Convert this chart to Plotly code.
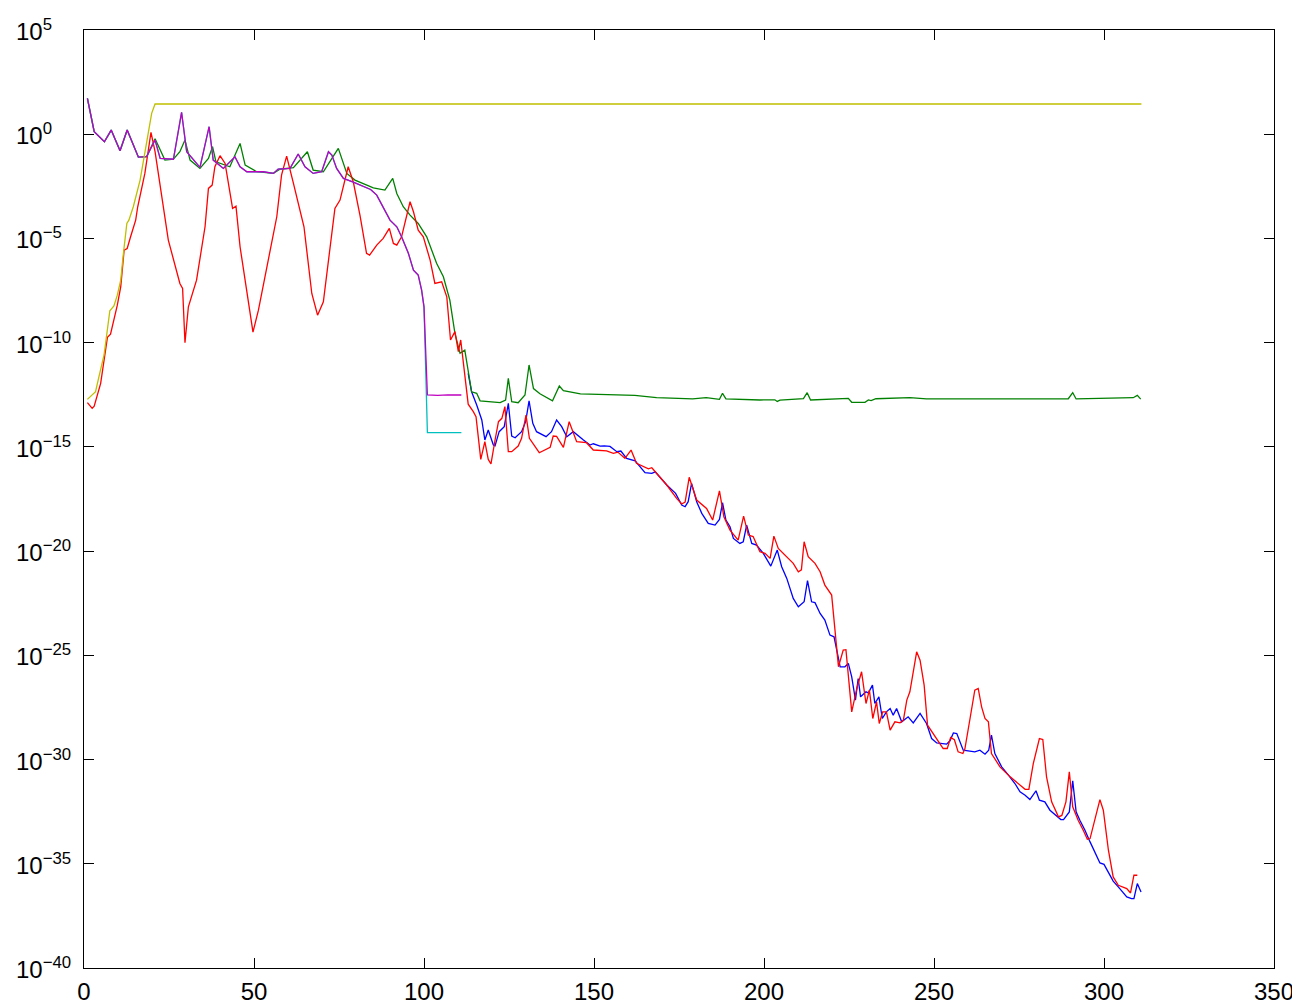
import plotly.graph_objects as go

# ---------------- data (x, log10 of value) ----------------
purple_x = [1, 3, 6, 8, 10.6, 12.7, 16, 18.4, 20.9, 22.4, 26.3, 28.7, 30.2, 34.1, 36.8, 38, 41,
            44.4, 45.9, 47.9, 52.7, 55.7, 57.1, 60.6, 63, 65, 67.4, 69.9, 71.9, 72.9, 74.3, 76.3,
            79.2, 82.1, 84.3, 86.1, 88, 90, 92, 93.4, 95.4, 96.9, 98.3, 99.3, 100, 101, 104, 107, 111]
purple_log = [1.72, 0.12, -0.36, 0.2, -0.79, 0.2, -1.1, -1.08, -0.28, -1.16, -1.2, 1.05, -0.84,
              -1.59, 0.36, -1.24, -1.64, -1.08, -1.56, -1.8, -1.8, -1.88, -1.67, -1.64, -0.95,
              -1.56, -1.88, -1.8, -0.84, -1.0, -1.64, -2.12, -2.3, -2.52, -2.65, -2.92, -3.48,
              -4.12, -4.44, -4.92, -5.71, -6.52, -6.76, -7.48, -8.28, -12.51, -12.53, -12.5, -12.51]

cyan_tail_x = [101, 111]
cyan_tail_log = [-14.32, -14.32]

green_x = [1, 3, 6, 8, 10.6, 12.7, 16, 18.4, 20.9, 23.8, 26.3, 28.2, 29.7, 31.2, 34.1, 36.6, 37.8,
           38.8, 42.9, 45.9, 47.4, 50.8, 55.7, 57.6, 61.6, 65.7, 67.4, 70.4, 74.8, 76.3, 77.3,
           79.7, 82.1, 85.1, 88.5, 90.8, 92, 93.9, 95.9, 98.3, 100.8, 103.7, 105.7, 107.6, 109.1,
           110.6, 112, 113, 114, 115.5, 116.5, 122.4, 124, 124.8, 125.8, 127.7, 129.7, 130.9,
           132.2, 134.1, 137.8, 139.8, 141, 146, 155, 162, 168.4, 179, 183, 186.9, 187.8, 188.8,
           198.8, 203.2, 203.9, 204.7, 211.6, 212.7, 213.7, 224.8, 225.8, 229.7, 230.7, 231.5,
           232.9, 239.5, 242.9, 247.8, 265, 289.5, 290.8, 291.8, 308.6, 309.8, 310.8]
green_log = [1.72, 0.12, -0.36, 0.2, -0.79, 0.2, -1.1, -1.08, -0.22, -1.24, -1.2, -0.84, -0.28,
             -1.24, -1.64, -1.16, -0.6, -1.32, -1.56, -0.44, -1.48, -1.8, -1.88, -1.68, -1.6,
             -0.84, -1.72, -1.8, -0.68, -1.4, -1.88, -2.2, -2.36, -2.57, -2.68, -2.12, -2.84,
             -3.48, -3.88, -4.28, -4.92, -6.19, -6.84, -7.96, -9.55, -10.51, -10.36, -11.47,
             -12.36, -12.43, -12.79, -12.88, -12.75, -11.71, -12.83, -12.88, -12.51, -11.07,
             -12.2, -12.45, -12.79, -12.08, -12.3, -12.46, -12.5, -12.53, -12.64, -12.7, -12.64,
             -12.72, -12.43, -12.7, -12.75, -12.74, -12.82, -12.76, -12.68, -12.4, -12.75,
             -12.67, -12.86, -12.86, -12.75, -12.78, -12.69, -12.64, -12.64, -12.7, -12.69,
             -12.69, -12.4, -12.7, -12.64, -12.53, -12.71]

red_x = [1, 2.4, 3, 4.9, 6.9, 7.8, 9.8, 10.8, 11.8, 12.7, 13.7, 15.2, 15.8, 17.9, 19.7, 20.9, 24.8,
         28.2, 29, 29.7, 30.7, 33.1, 35.6, 36.6, 37.7, 38.5, 40, 41.5, 43.7, 44.7, 45.9, 47.9,
         49.7, 51.3, 53.7, 56.7, 58.1, 59.6, 61.6, 64.7, 67, 68.7, 70.4, 73.8, 75.3, 77.7, 79.2,
         81.2, 83.1, 84, 86.1, 88, 89.8, 91, 92, 93.4, 95.9, 96.9, 98.3, 99.8, 101.8, 103.2,
         105.2, 106.7, 107.8, 109.1, 110.1, 110.8, 111.6, 113, 114.5, 115.3, 116.7, 117.9, 118.9,
         119.7, 120.9, 121.9, 122.9, 123.8, 124.8, 125.8, 127.7, 128.7, 130, 131, 133.9, 137.1,
         138, 139, 141, 142.7, 144.9, 147.8, 149.8, 153.7, 155.7, 157, 159.1, 160.9, 162.5,
         164.5, 166, 167, 168.4, 171.4, 174.3, 175.8, 176.8, 178, 180.2, 183.1, 184.9, 186.9,
         188.2, 190, 192.4, 194, 195.4, 196.8, 198.8, 200.3, 201.8, 202.9, 204.2, 206.7, 208.6,
         210.1, 211, 211.8, 213, 215, 216.5, 217.9, 219.9, 221.9, 223.3, 224.1, 225.8, 227.3,
         228.7, 230, 231, 232, 233.1, 233.9, 234.9, 236, 237.1, 238.5, 240, 241, 242, 242.9,
         244.9, 245.9, 247.1, 248.1, 249.8, 251.8, 252.7, 253.9, 254.9, 256, 257.1, 258.5,
         259.1, 260.6, 262, 263, 264, 265, 266, 266.9, 269.4, 272.4, 274.8, 276.8, 277.9, 279.2,
         281, 282, 283.1, 284.6, 286.6, 287.6, 288.8, 289.8, 290.8, 292.4, 293.9, 295.1, 295.9,
         297.4, 298.8, 299.8, 301.3, 302.7, 304.2, 306.7, 307.8, 308.8, 309.8]
red_log = [-12.88, -13.15, -13.05, -11.95, -9.74, -9.59, -8.2, -7.32, -5.56, -5.48, -4.92, -4.12,
           -3.48, -1.88, 0.09, -0.84, -5.08, -7.16, -7.4, -10.0, -8.28, -7.0, -4.44, -2.6, -2.44,
           -1.56, -1.03, -1.4, -3.56, -3.45, -5.4, -7.48, -9.49, -8.44, -6.52, -3.96, -1.96,
           -1.05, -2.36, -4.44, -7.64, -8.68, -8.04, -3.56, -3.16, -1.56, -2.28, -3.92, -5.71,
           -5.8, -5.32, -5.0, -4.52, -5.24, -5.32, -4.92, -3.24, -3.72, -4.6, -4.92, -6.04,
           -7.16, -7.08, -7.8, -9.87, -9.47, -10.43, -9.87, -10.99, -12.95, -13.31, -13.55,
           -15.6, -14.75, -15.6, -15.82, -14.67, -13.79, -13.63, -13.07, -15.23, -15.23, -14.96,
           -14.59, -13.47, -14.59, -15.28, -15.02, -14.48, -14.5, -15.02, -13.79, -14.75, -14.8,
           -15.15, -15.19, -15.31, -15.25, -15.55, -15.15, -15.79, -15.95, -16.05, -16.0, -16.27,
           -16.83, -17.47, -17.74, -17.65, -16.46, -17.55, -17.95, -18.51, -17.11, -18.35,
           -18.99, -19.47, -18.32, -19.23, -19.3, -20.03, -20.11, -20.35, -19.28, -19.87,
           -20.27, -20.59, -20.99, -20.9, -19.55, -20.27, -20.59, -20.99, -21.63, -22.11,
           -25.55, -24.75, -24.73, -27.71, -26.59, -25.79, -27.31, -26.67, -28.03, -27.23,
           -28.27, -27.71, -27.71, -28.59, -28.19, -28.24, -28.11, -27.15, -26.75, -24.83,
           -25.23, -26.43, -28.35, -28.75, -29.23, -29.47, -29.47, -28.94, -29.05, -29.63,
           -29.71, -29.47, -28.03, -26.67, -26.59, -27.47, -28.03, -28.19, -29.71, -30.35,
           -30.83, -31.18, -31.43, -31.43, -30.19, -28.99, -29.04, -30.83, -32.03, -32.75,
           -32.68, -32.03, -30.59, -32.27, -32.91, -33.39, -33.82, -33.79, -32.75, -31.92,
           -32.43, -34.35, -35.63, -36.03, -36.19, -36.4, -35.55, -35.55]

blue_x = [113, 114, 115.5, 117, 117.9, 118.9, 120.4, 120.9, 122.1, 123.6, 124.8, 125.8, 126.8,
          128.7, 129.9, 130.9, 132, 133.1, 135.9, 137.5, 139, 140.5, 142, 143.9, 146.9, 148.8,
          149.8, 151.8, 153, 154.7, 156.7, 157.9, 159.6, 162.1, 165, 167, 168, 171.4, 174,
          175.8, 176.8, 177.7, 178.7, 180.2, 181.7, 183.6, 185.6, 186.9, 187.8, 188.8, 190, 191,
          192.9, 193.9, 194.9, 196.4, 197.8, 199.8, 202, 203.9, 205.2, 206.7, 208.6, 210.1,
          211.8, 212.8, 214, 215, 216.5, 217.9, 219.4, 220.6, 222.4, 223.8, 224.8, 225.8, 226.9,
          227.7, 228.4, 230, 230.7, 231.9, 232.6, 233.8, 234.8, 236, 237.1, 238, 239, 240.5,
          242.4, 243.9, 245.9, 247.8, 249.3, 250.8, 253.7, 254.7, 255.7, 256.7, 258.6, 262,
          263.5, 265, 266.1, 266.9, 267.9, 269.9, 271.9, 273.8, 275.3, 276.8, 278.2, 280, 281,
          282.6, 284.1, 286.1, 287.3, 288.1, 289.8, 290.8, 291.8, 292.9, 294.4, 295.9, 297.4,
          298.8, 300, 301.3, 302.7, 304.2, 306.7, 308.1, 308.8, 309.8, 310.9]
blue_log = [-11.47, -12.36, -12.99, -13.71, -14.67, -14.19, -14.91, -14.95, -14.27, -14.03,
            -12.91, -14.48, -14.56, -14.27, -13.79, -12.79, -13.87, -14.27, -14.51, -14.27,
            -13.71, -14.03, -14.51, -14.27, -14.67, -14.91, -14.85, -14.96, -14.95, -14.98,
            -15.23, -15.2, -15.55, -15.67, -16.24, -16.27, -16.2, -16.83, -17.23, -17.79, -17.87,
            -17.63, -16.75, -17.63, -18.19, -18.67, -18.75, -18.48, -17.68, -18.51, -18.83,
            -19.39, -19.63, -19.55, -18.75, -19.63, -19.71, -20.11, -20.72, -19.95, -20.75,
            -21.31, -22.27, -22.67, -22.43, -21.42, -22.43, -22.47, -22.99, -23.31, -24.03,
            -24.11, -25.55, -25.55, -25.39, -26.03, -27.15, -26.11, -26.99, -26.75, -26.8,
            -26.43, -27.31, -26.99, -28.03, -27.71, -27.55, -27.87, -27.55, -28.19, -27.95,
            -28.24, -27.79, -28.27, -28.99, -29.2, -29.26, -29.1, -28.72, -28.75, -29.55,
            -29.63, -29.55, -29.74, -29.55, -28.83, -29.71, -30.35, -30.75, -31.15, -31.55,
            -31.71, -31.92, -31.5, -31.95, -32.03, -32.43, -32.72, -32.88, -32.88, -32.51,
            -31.02, -32.51, -32.91, -33.39, -33.95, -34.51, -34.96, -35.03, -35.44, -35.83,
            -36.11, -36.59, -36.67, -36.67, -35.95, -36.35]

yellow_x = [1, 3.4, 4.4, 5.9, 7.6, 8.8, 9.8, 10.8, 11.6, 12.6, 13.2, 14.5, 16.5, 18.9, 19.9, 20.9, 311]
yellow_log = [-12.72, -12.35, -11.63, -10.59, -8.47, -8.24, -7.72, -7.0, -5.71, -4.28, -4.12,
              -3.48, -2.2, 0.2, 1.0, 1.45, 1.45]

# cyan shares purple's curve until the drop near x = 100
cyan_x = [x for x in purple_x if x <= 100] + cyan_tail_x
cyan_log = [v for x, v in zip(purple_x, purple_log) if x <= 100] + cyan_tail_log

x_ticks = [0, 50, 100, 150, 200, 250, 300, 350]
y_tick_exponents = [5, 0, -5, -10, -15, -20, -25, -30, -35, -40]


def vals(logs):
    return [10.0 ** v for v in logs]


def exp_label(e):
    s = str(e).replace("-", "\u2212")
    return "10<sup>" + s + "</sup>"


series = [
    ("blue", blue_x, blue_log, "#0000ff"),
    ("green", green_x, green_log, "#008000"),
    ("red", red_x, red_log, "#ff0000"),
    ("cyan", cyan_x, cyan_log, "#00bfbf"),
    ("purple", purple_x, purple_log, "#bf00bf"),
    ("yellow", yellow_x, yellow_log, "#bfbf00"),
]

fig = go.Figure()
for name, xs, ls, col in series:
    fig.add_trace(go.Scatter(x=xs, y=vals(ls), mode="lines", name=name,
                             line=dict(color=col, width=1.3), showlegend=False))

axis_common = dict(showline=True, linecolor="black", linewidth=1, mirror="ticks",
                   ticks="inside", ticklen=10, tickcolor="black", showgrid=False,
                   zeroline=False, automargin=False)

# The page has an 8 px body margin; the figure is sized so that the plot box
# lands at x 84..1274, y 30..968 in the 1300x1006 window.
FIG_W, FIG_H = 1292, 998
fig.update_layout(
    width=FIG_W, height=FIG_H,
    margin=dict(l=76, r=26, t=22, b=38),
    paper_bgcolor="white", plot_bgcolor="white",
    font=dict(family="Liberation Sans, Arial, sans-serif", size=24, color="black"),
    xaxis=dict(range=[0, 350], tickvals=x_ticks, ticklabelstandoff=2, **axis_common),
    yaxis=dict(type="log", range=[-40, 5],
               tickvals=[10.0 ** e for e in y_tick_exponents],
               showticklabels=False, **axis_common),
)

# y tick labels, left-aligned like the original
for e in y_tick_exponents:
    fig.add_annotation(text=exp_label(e), xref="paper", x=0, xanchor="left", xshift=-70,
                       yref="y", y=e, yanchor="middle", yshift=0, showarrow=False,
                       font=dict(size=24, color="black"))

fig.write_html("out.html")
